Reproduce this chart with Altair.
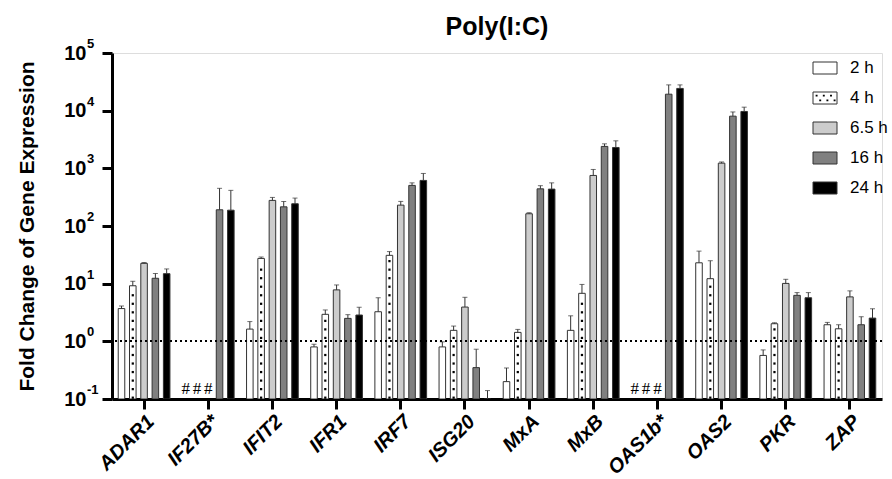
import altair as alt
import pandas as pd
import numpy as np

title_text = ["Poly(I:C)"]
genes = ["ADAR1", "IF27B*", "IFIT2", "IFR1", "IRF7", "ISG20", "MxA", "MxB", "OAS1b*", "OAS2", "PKR", "ZAP"]
series = ["2 h", "4 h", "6.5 h", "16 h", "24 h"]

mean_2h = [3.7, None, 1.63, 0.80, 3.26, 0.80, 0.20, 1.55, None, 23, 0.57, 1.94]
upper_2h = [4.1, None, 2.2, 0.89, 5.7, 0.98, 0.345, 2.77, None, 36.7, 0.71, 2.13]
mean_4h = [9.2, None, 27.4, 2.94, 31, 1.55, 1.43, 6.8, None, 12.2, 2.02, 1.65]
upper_4h = [11, None, 29, 3.5, 36, 1.84, 1.61, 9.7, None, 25, 2.1, 1.94]
mean_6h = [22.5, None, 278, 7.8, 230, 3.93, 163, 753, None, 1230, 10.1, 5.9]
upper_6h = [23.3, None, 313, 9.5, 267, 5.8, 170, 956, None, 1290, 11.9, 7.5]
mean_16h = [12.4, 191, 215, 2.5, 506, 0.35, 441, 2400, 19300, 8030, 6.27, 1.94]
upper_16h = [15, 450, 266, 2.9, 560, 0.73, 500, 2660, 28000, 9500, 7.0, 2.67]
mean_24h = [14.9, 188, 243, 2.86, 617, 0.09, 436, 2300, 24300, 9690, 5.7, 2.53]
upper_24h = [18, 415, 305, 3.9, 815, 0.14, 560, 3000, 28000, 11500, 7.0, 3.67]

ytick_vals = [0.1, 1, 10, 100, 1000, 10000, 100000]
ytick_exps = ["-1", "0", "1", "2", "3", "4", "5"]

fills = ["#ffffff", "#ffffff", "#cccccc", "#808080", "#000000"]

means = [mean_2h, mean_4h, mean_6h, mean_16h, mean_24h]
uppers = [upper_2h, upper_4h, upper_6h, upper_16h, upper_24h]

rows, miss = [], []
for s, mv, uv in zip(series, means, uppers):
    for g, m, u in zip(genes, mv, uv):
        if m is None:
            miss.append({"gene": g, "series": s, "mark": "#"})
        else:
            rows.append({"gene": g, "series": s, "value": m, "upper": u})
df = pd.DataFrame(rows)
miss_df = pd.DataFrame(miss)

# dot pattern inside the 4 h bars (decoration derived from the bar heights)
dots = []
for g, m in zip(genes, mean_4h):
    if m is None:
        continue
    k = 0
    while True:
        lv = -0.977 + 0.148 * k
        if lv > np.log10(m) - 0.05:
            break
        dots.append({"gene": g, "series": "4 h", "y": 10 ** lv})
        k += 1
dots_df = pd.DataFrame(dots)

tick_df = pd.DataFrame({"v": ytick_vals, "e": ytick_exps})
leg_df = pd.DataFrame({"series": series})
title_df = pd.DataFrame({"t": title_text})

yscale = alt.Scale(type="log", domain=[0.1, 100000], nice=False)
xenc = alt.X("gene:N", sort=genes,
             scale=alt.Scale(domain=genes, paddingInner=0.12, paddingOuter=0.06),
             axis=alt.Axis(title=None, labelAngle=-45, labelAlign="right", labelBaseline="top",
                           labelFont="Liberation Sans", labelFontSize=20, labelFontWeight="bold",
                           labelFontStyle="italic", labelColor="black", labelPadding=2,
                           tickSize=10, tickWidth=3, tickColor="black",
                           domainWidth=3, domainColor="black"))
xoff = alt.XOffset("series:N", sort=series,
                   scale=alt.Scale(domain=series, paddingInner=0.42, paddingOuter=0.21))
fill_enc = alt.Fill("series:N", scale=alt.Scale(domain=series, range=fills), legend=None)

stroke_c = "#333333"

bars = alt.Chart(df).mark_bar(stroke=stroke_c, strokeWidth=1, clip=True).encode(
    x=xenc, xOffset=xoff,
    y=alt.Y("value:Q", scale=yscale, stack=None,
            axis=alt.Axis(values=ytick_vals, labelExpr="'10'", grid=False,
                          title="Fold Change of Gene Expression",
                          titleFont="Liberation Sans", titleFontSize=21, titleFontWeight="bold",
                          titleColor="black", titleX=-85, titleY=173, titleAngle=270,
                          titleAlign="center", titleBaseline="middle",
                          labelFont="Liberation Sans", labelFontSize=20, labelFontWeight="bold",
                          labelColor="black", labelPadding=16, labelBaseline="middle",
                          tickSize=10, tickWidth=3, tickColor="black",
                          domainWidth=3, domainColor="black")),
    y2=alt.Y2Datum(0.1),
    fill=fill_enc,
)

dot_layer = alt.Chart(dots_df).mark_square(size=5, color="black", opacity=1, clip=True).encode(
    x=alt.X("gene:N", sort=genes), xOffset=alt.XOffset("series:N", sort=series),
    y=alt.Y("y:Q", scale=yscale, axis=None),
)

err = alt.Chart(df).mark_rule(color=stroke_c, strokeWidth=1, clip=True).encode(
    x=alt.X("gene:N", sort=genes), xOffset=alt.XOffset("series:N", sort=series),
    y=alt.Y("value:Q", scale=yscale, axis=None), y2="upper:Q",
)
caps = alt.Chart(df).mark_tick(color=stroke_c, thickness=1, size=5, clip=True).encode(
    x=alt.X("gene:N", sort=genes), xOffset=alt.XOffset("series:N", sort=series),
    y=alt.Y("upper:Q", scale=yscale, axis=None),
)

ref = alt.Chart(tick_df).mark_rule(color="black", strokeWidth=1.5, strokeDash=[2, 3]).encode(
    y=alt.YDatum(1, scale=yscale, axis=None),
)

hashes = alt.Chart(miss_df).mark_text(font="Liberation Serif", fontSize=17, baseline="alphabetic",
                                       dy=-5, color="black").encode(
    x=alt.X("gene:N", sort=genes), xOffset=alt.XOffset("series:N", sort=series),
    y=alt.YDatum(0.1, scale=yscale, axis=None),
    text="mark:N",
)

exps = alt.Chart(tick_df).mark_text(font="Liberation Sans", fontSize=13, fontWeight="bold",
                                     align="left", baseline="middle", dy=-9, color="black").encode(
    x=alt.value(-25),
    y=alt.Y("v:Q", scale=yscale, axis=None),
    text="e:N",
)

title_mark = alt.Chart(title_df).mark_text(font="Liberation Sans", fontSize=25, fontWeight="bold",
                                           align="center", baseline="alphabetic", color="black").encode(
    x=alt.value(385), y=alt.value(-18), text="t:N",
)

leg_y = alt.Y("series:N", sort=series,
              scale=alt.Scale(type="point", domain=series, range=[15, 135], padding=0), axis=None)
leg_sym = alt.Chart(leg_df).mark_point(shape="M-1,-0.5H1V0.5H-1Z", size=576, filled=True,
                                        stroke=stroke_c, strokeWidth=1, opacity=1).encode(
    x=alt.value(713), y=leg_y, fill=fill_enc,
)
dot_path = ("M-0.78,-0.28h0.16v0.16h-0.16Z M-0.18,-0.28h0.16v0.16h-0.16Z M0.42,-0.28h0.16v0.16h-0.16Z "
            "M-0.48,0.12h0.16v0.16h-0.16Z M0.12,0.12h0.16v0.16h-0.16Z M0.72,0.12h0.16v0.16h-0.16Z")
leg_dots = alt.Chart(leg_df).transform_filter(alt.datum.series == "4 h").mark_point(
    shape=dot_path, size=576, filled=True, color="black", opacity=1).encode(
    x=alt.value(713), y=leg_y,
)
leg_txt = alt.Chart(leg_df).mark_text(font="Liberation Sans", fontSize=17, align="left",
                                       baseline="middle", color="black").encode(
    x=alt.value(738), y=leg_y, text="series:N",
)

chart = alt.layer(bars, dot_layer, err, caps, ref, hashes, exps, title_mark,
                  leg_sym, leg_dots, leg_txt).resolve_scale(
    y="independent", fill="shared"
).properties(
    width=770, height=346,
    autosize=alt.AutoSizeParams(type="none"),
    padding={"left": 112, "top": 53, "right": 10, "bottom": 80},
).configure_view(stroke=None).configure(background="white")

chart.save("out.html", embed_options={"renderer": "svg", "actions": False})
